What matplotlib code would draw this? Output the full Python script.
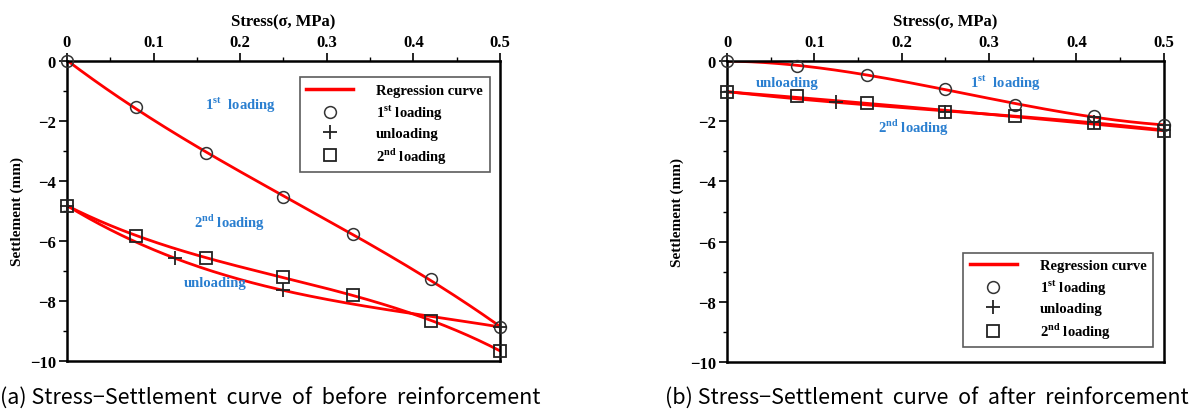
import matplotlib
matplotlib.use('Agg')
import matplotlib.pyplot as plt
import numpy as np

# stress steps (MPa)
stress = [0, 0.08, 0.16, 0.25, 0.33, 0.42, 0.5]

# (a) before reinforcement
a_first = [0, -1.53, -3.05, -4.53, -5.78, -7.28, -8.87]
a_unload_x = [0.5, 0.25, 0.125, 0]
a_unload = [-8.87, -7.65, -6.58, -4.82]
a_second = [-4.82, -5.82, -6.57, -7.2, -7.82, -8.66, -9.66]

# (b) after reinforcement
b_first = [0, -0.15, -0.45, -0.93, -1.46, -1.82, -2.13]
b_unload_x = [0.5, 0.42, 0.25, 0.125, 0]
b_unload = [-2.3, -2.03, -1.68, -1.35, -1.02]
b_second = [-1.04, -1.17, -1.39, -1.7, -1.83, -2.06, -2.33]

plt.rcParams['font.family'] = ['Liberation Serif', 'DejaVu Serif']
plt.rcParams['font.weight'] = 'bold'
plt.rcParams['mathtext.fontset'] = 'custom'
plt.rcParams['mathtext.rm'] = 'Liberation Serif:bold'
plt.rcParams['mathtext.bf'] = 'Liberation Serif:bold'

BLUE = '#2a7fd0'
RED = '#ff0000'


def regression(ax, xs, ys, deg=3):
    coef = np.polyfit(xs, ys, deg)
    xx = np.linspace(0, 0.5, 200)
    ax.plot(xx, np.polyval(coef, xx), color=RED, lw=2, zorder=2)


def panel(ax, first, ux, unload, second, notes, legend_loc, legend_anchor):
    regression(ax, stress, first)
    regression(ax, ux, unload)
    regression(ax, stress, second)
    ax.plot([], [], color=RED, lw=2.5, label='Regression curve')
    ax.plot(stress, first, 'o', ms=8.5, mfc='none', mec='#333333', mew=1.1,
            clip_on=False, zorder=3, label=r'1$^{\mathrm{st}}$ loading')
    ax.plot(ux, unload, '+', ms=10, mec='#222222', mew=1.3,
            clip_on=False, zorder=3, label='unloading')
    ax.plot(stress, second, 's', ms=8.5, mfc='none', mec='#222222', mew=1.3,
            clip_on=False, zorder=3, label=r'2$^{\mathrm{nd}}$ loading')

    for (tx, ty, s) in notes:
        ax.text(tx, ty, s, color=BLUE, fontsize=10.5, fontweight='bold',
                ha='center', va='center')

    ax.set_xlim(0, 0.5)
    ax.set_ylim(-10, 0)
    ax.xaxis.tick_top()
    ax.xaxis.set_label_position('top')
    ax.set_xticks([0, 0.1, 0.2, 0.3, 0.4, 0.5])
    ax.set_xticklabels(['0', '0.1', '0.2', '0.3', '0.4', '0.5'])
    ax.set_xticks(np.arange(0.05, 0.5, 0.1), minor=True)
    ax.set_yticks([0, -2, -4, -6, -8, -10])
    ax.set_yticks([-1, -3, -5, -7, -9], minor=True)
    ax.tick_params(which='major', length=6, width=1.2, labelsize=12, pad=2)
    ax.tick_params(which='minor', length=3, width=1)
    for lab in ax.get_xticklabels() + ax.get_yticklabels():
        lab.set_fontweight('bold')
    for sp in ax.spines.values():
        sp.set_linewidth(1.8)
    ax.set_xlabel('Stress(σ, MPa)', fontsize=12, fontweight='bold', labelpad=6)
    ax.set_ylabel('Settlement (mm)', fontsize=11, fontweight='bold', labelpad=4)

    leg = ax.legend(loc=legend_loc, bbox_to_anchor=legend_anchor, fontsize=10.5,
                    frameon=True, fancybox=False, edgecolor='#333333',
                    handlelength=3.2, handletextpad=1.6, labelspacing=0.35,
                    borderpad=0.45, markerfirst=True)
    leg.get_frame().set_linewidth(1.2)
    for t in leg.get_texts():
        t.set_fontweight('bold')


fig = plt.figure(figsize=(11.96, 4.14), dpi=100)
ax1 = fig.add_axes([0.056, 0.126, 0.362, 0.724])
ax2 = fig.add_axes([0.608, 0.123, 0.365, 0.727])

panel(ax1, a_first, a_unload_x, a_unload, a_second,
      [(0.2, -1.43, r'1$^{\mathrm{st}}$  loading'),
       (0.188, -5.37, r'2$^{\mathrm{nd}}$ loading'),
       (0.171, -7.37, 'unloading')],
      'upper right', (0.993, 0.97))
panel(ax2, b_first, b_unload_x, b_unload, b_second,
      [(0.069, -0.7, 'unloading'),
       (0.319, -0.7, r'1$^{\mathrm{st}}$  loading'),
       (0.213, -2.2, r'2$^{\mathrm{nd}}$ loading')],
      'lower right', (0.993, 0.025))

cap = ['Noto Sans CJK KR', 'DejaVu Sans']
fig.text(0.0, 0.04, '(a) Stress\u2212Settlement  curve  of  before  reinforcement',
         family=cap, fontweight='normal', fontsize=15.5, ha='left', va='center')
fig.text(0.556, 0.04, '(b) Stress\u2212Settlement  curve  of  after  reinforcement',
         family=cap, fontweight='normal', fontsize=15.5, ha='left', va='center')

fig.savefig('out.png', dpi=100)
